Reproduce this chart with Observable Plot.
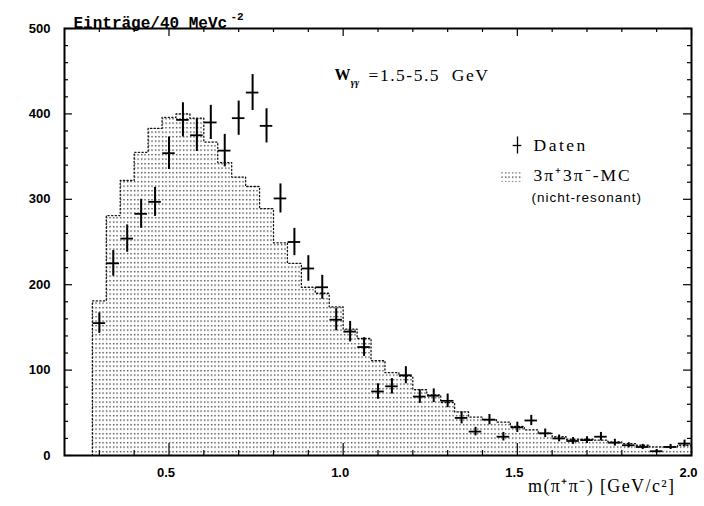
<!DOCTYPE html>
<html>
<head>
<meta charset="utf-8">
<script src="https://cdn.jsdelivr.net/npm/d3@7"></script>
<script src="https://cdn.jsdelivr.net/npm/@observablehq/plot@0.6"></script>
<style>
  html, body { margin: 0; padding: 0; background: #fff; }
</style>
</head>
<body>
<div id="chart"></div>
<script>
// Bin centres (40 MeV bins)
const binCenters = [0.30, 0.34, 0.38, 0.42, 0.46, 0.50, 0.54, 0.58, 0.62, 0.66,
  0.70, 0.74, 0.78, 0.82, 0.86, 0.90, 0.94, 0.98, 1.02, 1.06,
  1.10, 1.14, 1.18, 1.22, 1.26, 1.30, 1.34, 1.38, 1.42, 1.46,
  1.50, 1.54, 1.58, 1.62, 1.66, 1.70, 1.74, 1.78, 1.82, 1.86,
  1.90, 1.94, 1.98];
// 3pi+3pi- MC (non-resonant) histogram
const mcCounts = [181, 281, 322, 355, 383, 396, 400, 395, 367, 343,
  326, 315, 289, 249, 225, 197, 190, 174, 148, 137,
  111, 97, 93, 77, 71, 62, 51, 45, 42, 39,
  34, 30, 26, 22, 19, 19, 18, 16, 14, 12,
  10, 10, 12];
// Data
const datenCounts = [155, 225, 254, 283, 297, 354, 393, 375, 390, 357,
  395, 425, 386, 301, 250, 219, 197, 159, 145, 127,
  75, 81, 94, 69, 70, 64, 44, 28, 42, 22,
  33, 41, 26, 20, 17, 18, 22, 15, 12, 10,
  5, 10, 14];
const datenErrors = [12, 15, 16, 17, 17, 19, 20, 19, 20, 19,
  20, 21, 20, 17, 16, 15, 14, 13, 12, 11,
  9, 9, 10, 8, 8, 8, 7, 5, 6, 5,
  6, 6, 5, 4, 4, 4, 5, 4, 3, 3,
  2, 3, 4];
const binWidth = 0.04;
const crossHalf = 0.018;

const xTickLabels = [0.5, 1.0, 1.5, 2.0];
const xMinorTicks = [0.3, 0.4, 0.6, 0.7, 0.8, 0.9, 1.1, 1.2, 1.3, 1.4, 1.6, 1.7, 1.8, 1.9];
const yTickLabels = [0, 100, 200, 300, 400, 500];
const yMinorTicks = [20, 40, 60, 80, 120, 140, 160, 180, 220, 240, 260, 280, 320, 340, 360, 380, 420, 440, 460, 480];

const mc = binCenters.map((x, i) => ({x, y: mcCounts[i]}));
const daten = binCenters.map((x, i) => ({x, y: datenCounts[i], e: datenErrors[i]}));
const outline = [{x: binCenters[0] - binWidth / 2, y: 0}];
mc.forEach(d => { outline.push({x: d.x - binWidth / 2, y: d.y}); outline.push({x: d.x + binWidth / 2, y: d.y}); });
outline.push({x: binCenters[binCenters.length - 1] + binWidth / 2, y: 0});

const serif = "Liberation Serif, Times New Roman, serif";
const sans = "Liberation Sans, Arial, sans-serif";
const mono = "Liberation Mono, Courier New, monospace";

const W = 704, H = 506, ML = 64, MR = 13, MT = 28, MB = 51;
const FW = W - ML - MR, FH = H - MT - MB;
// inward tick marks drawn as rules inset from the frame
const tickX = (ticks, len, side) => Plot.ruleX(ticks, {x: d => d, stroke: "#000", strokeWidth: 1.2,
  insetTop: side === "bottom" ? FH - len : 0, insetBottom: side === "top" ? FH - len : 0});
const tickY = (ticks, len, side) => Plot.ruleY(ticks, {y: d => d, stroke: "#000", strokeWidth: 1.2,
  insetRight: side === "left" ? FW - len : 0, insetLeft: side === "right" ? FW - len : 0});

const chart = Plot.plot({
  width: W,
  height: H,
  marginLeft: ML,
  marginRight: MR,
  marginTop: MT,
  marginBottom: MB,
  style: {fontFamily: sans, fontSize: "13px", fontWeight: "bold", background: "#fff", color: "#000"},
  x: {domain: [0.2, 2.0]},
  y: {domain: [0, 500]},
  marks: [
    Plot.rectY(mc, {x1: d => d.x - binWidth / 2, x2: d => d.x + binWidth / 2, y: "y", fill: "url(#dots)"}),
    Plot.line(outline, {x: "x", y: "y", stroke: "#111", strokeWidth: 1.3, strokeDasharray: "1.2,2.4"}),
    Plot.ruleX(daten, {x: "x", y1: d => d.y - d.e, y2: d => d.y + d.e, stroke: "#000", strokeWidth: 2}),
    Plot.ruleY(daten, {y: "y", x1: d => d.x - crossHalf, x2: d => d.x + crossHalf, stroke: "#000", strokeWidth: 1.8}),
    // ticks (inward)
    tickX(xMinorTicks, 5, "bottom"),
    tickX(xTickLabels, 12, "bottom"),
    tickX(xMinorTicks, 4, "top"),
    tickX(xTickLabels, 8, "top"),
    tickY(yMinorTicks, 4, "left"),
    tickY(yTickLabels, 8, "left"),
    tickY(yMinorTicks, 4, "right"),
    tickY(yTickLabels, 8, "right"),
    // tick labels
    Plot.axisX({anchor: "bottom", ticks: xTickLabels, tickSize: 0, tickPadding: 12, tickFormat: d3.format(".1f"), dx: -3, fontSize: 13, fontWeight: "bold", label: null}),
    Plot.axisY({anchor: "left", ticks: yTickLabels, tickSize: 0, tickPadding: 14, tickFormat: d3.format("d"), fontSize: 13, fontWeight: "bold", label: null}),
    Plot.frame({stroke: "#000", strokeWidth: 2}),
    // titles
    Plot.text(["Einträge/40 MeVc"], {frameAnchor: "top-left", dx: 9, dy: -12, textAnchor: "start", fontFamily: mono, fontSize: 16, fontWeight: "bold"}),
    Plot.text(["-2"], {frameAnchor: "top-left", dx: 166, dy: -16, textAnchor: "start", fontFamily: mono, fontSize: 11, fontWeight: "bold"}),
    Plot.text(["m(π⁺π⁻) [GeV/c²]"], {frameAnchor: "bottom-right", dx: -16, dy: 36, textAnchor: "end", fontFamily: serif, fontSize: 18, fontWeight: "normal"}),
    // annotation
    Plot.text(["W"], {x: 0.975, y: 446, textAnchor: "start", fontFamily: serif, fontSize: 16, fontWeight: "bold"}),
    Plot.text(["γγ"], {x: 1.022, y: 436, textAnchor: "start", fontFamily: serif, fontSize: 10, fontWeight: "bold", fontStyle: "italic"}),
    Plot.text(["=1.5-5.5\u00a0\u00a0GeV"], {x: 1.073, y: 445.4, textAnchor: "start", fontFamily: serif, fontSize: 17.5, fontWeight: "normal"}),
    // legend
    Plot.ruleX([1.5005], {x: d => d, y1: 353, y2: 373, stroke: "#000", strokeWidth: 1.3}),
    Plot.ruleY([363], {y: d => d, x1: 1.488, x2: 1.513, stroke: "#000", strokeWidth: 1.3}),
    Plot.text(["Daten"], {x: 1.5464, y: 363.6, textAnchor: "start", fontFamily: serif, fontSize: 17.5, fontWeight: "normal"}),
    Plot.rect([0], {x1: 1.452, x2: 1.515, y1: 320, y2: 331, fill: "url(#dots)"}),
    Plot.text(["3π⁺3π⁻-MC"], {x: 1.5464, y: 327.9, textAnchor: "start", fontFamily: serif, fontSize: 17.5, fontWeight: "normal"}),
    Plot.text(["(nicht-resonant)"], {x: 1.5407, y: 301.5, textAnchor: "start", fontFamily: sans, fontSize: 13.5, fontWeight: "normal"})
  ]
});

const svg = chart.tagName.toLowerCase() === "svg" ? chart : chart.querySelector("svg");
const pat = d3.select(svg).insert("defs", ":first-child")
  .append("pattern").attr("id", "dots").attr("patternUnits", "userSpaceOnUse")
  .attr("width", 3.5).attr("height", 4.5);
pat.append("rect").attr("x", 1).attr("y", 1).attr("width", 1.2).attr("height", 1.3).attr("fill", "#111");

const spacing = {"Daten": 2.5, "3π⁺3π⁻-MC": 2, "(nicht-resonant)": 1, "=1.5-5.5\u00a0\u00a0GeV": 1.5, "m(π⁺π⁻) [GeV/c²]": 1.4};
d3.select(svg).selectAll("text").each(function() {
  const s = spacing[this.textContent];
  if (s) this.setAttribute("letter-spacing", s);
});

document.getElementById("chart").appendChild(chart);
</script>
</body>
</html>
